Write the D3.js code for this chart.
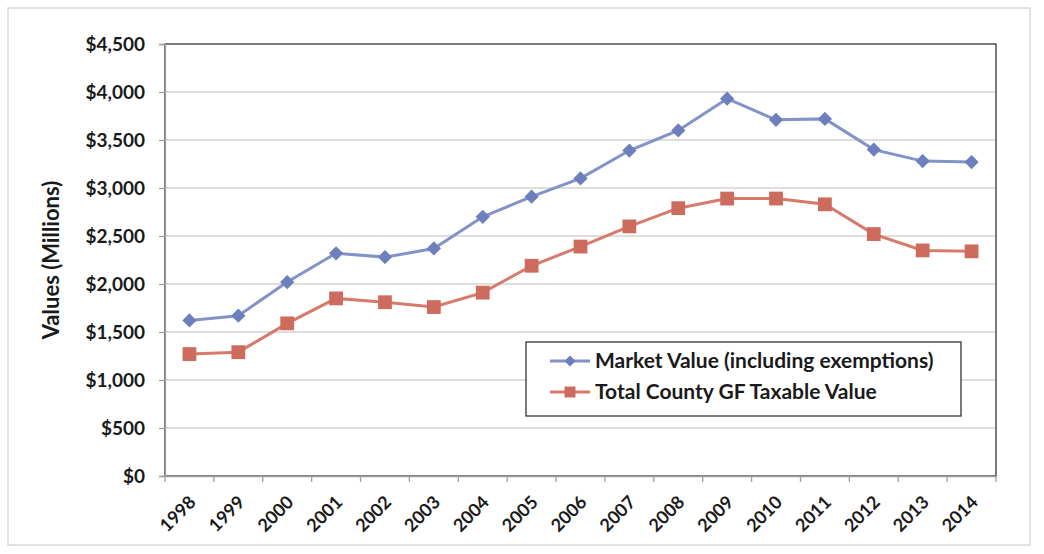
<!DOCTYPE html>
<html>
<head>
<meta charset="utf-8">
<script src="https://cdn.jsdelivr.net/npm/d3@7"></script>
<style>
  body { margin: 0; background: #fff; }
  svg text { font-family: Lato, "Open Sans", sans-serif; font-weight: bold; fill: #1a1a1a; }
</style>
</head>
<body>
<svg id="chart" width="1044" height="554"></svg>
<script>
const years = ['1998','1999','2000','2001','2002','2003','2004','2005','2006','2007','2008','2009','2010','2011','2012','2013','2014'];
const marketValue = [1620, 1670, 2020, 2320, 2280, 2370, 2700, 2910, 3100, 3390, 3600, 3930, 3710, 3720, 3400, 3280, 3270];
const taxableValue = [1270, 1290, 1590, 1850, 1810, 1760, 1910, 2190, 2390, 2600, 2790, 2890, 2890, 2830, 2520, 2350, 2340];
const yTicks = [0, 500, 1000, 1500, 2000, 2500, 3000, 3500, 4000, 4500];
const seriesNames = ['Market Value (including exemptions)', 'Total County GF Taxable Value'];

const width = 1044, height = 554;
const margin = { top: 44, right: 48, bottom: 78, left: 165 };

const svg = d3.select('#chart');

// outer frame
svg.append('rect')
    .attr('x', 8).attr('y', 8)
    .attr('width', 1022).attr('height', 537)
    .attr('fill', 'none')
    .attr('stroke', '#d9d9d9')
    .attr('stroke-width', 1.5);

const x = d3.scaleBand()
    .domain(years)
    .range([margin.left, width - margin.right]);

const y = d3.scaleLinear()
    .domain([0, 4500])
    .range([height - margin.bottom, margin.top]);

// gridlines
svg.append('g')
    .selectAll('line')
    .data(yTicks.filter(d => d > 0 && d < 4500))
    .enter()
    .append('line')
    .attr('x1', margin.left).attr('x2', width - margin.right)
    .attr('y1', d => y(d)).attr('y2', d => y(d))
    .attr('stroke', '#bdbdbd')
    .attr('stroke-width', 1.2);

// plot border (top/right dark)
svg.append('rect')
    .attr('x', margin.left).attr('y', margin.top)
    .attr('width', width - margin.right - margin.left)
    .attr('height', height - margin.bottom - margin.top)
    .attr('fill', 'none')
    .attr('stroke', '#333')
    .attr('stroke-width', 1.3);

//y axis
const yAxis = d3.axisLeft(y)
    .tickValues(yTicks)
    .tickSize(6)
    .tickPadding(14)
    .tickFormat(d => '$' + d3.format(',')(d));

const yAxisGroup = svg.append('g')
    .attr('transform', `translate(${margin.left},0)`)
    .call(yAxis);

yAxisGroup.selectAll('text').style('font-size', '19px');
yAxisGroup.selectAll('path, line').attr('stroke', '#9e9e9e').style('stroke-width', '1.3px');

//x axis
const xAxis = d3.axisBottom(x).tickSize(0).tickFormat(d => d);

const xAxisGroup = svg.append('g')
    .attr('transform', `translate(0,${height - margin.bottom})`)
    .call(xAxis);

xAxisGroup.select('path').attr('stroke', '#9e9e9e').style('stroke-width', '1.3px');
xAxisGroup.selectAll('text')
    .style('font-size', '18px')
    .style('text-anchor', 'end')
    .attr('y', 0)
    .attr('dy', '0.35em')
    .attr('transform', 'translate(3,23) rotate(-45)');

// category boundary ticks
svg.append('g')
    .selectAll('line')
    .data(years.concat(['end']))
    .enter()
    .append('line')
    .attr('x1', (d, i) => margin.left + i * x.step())
    .attr('x2', (d, i) => margin.left + i * x.step())
    .attr('y1', height - margin.bottom)
    .attr('y2', height - margin.bottom + 6)
    .attr('stroke', '#9e9e9e')
    .attr('stroke-width', 1.3);

// y title
svg.append('text')
    .attr('transform', `translate(51,${(margin.top + height - margin.bottom) / 2}) rotate(-90)`)
    .attr('text-anchor', 'middle')
    .attr('dy', '0.35em')
    .style('font-size', '22px')
    .text('Values (Millions)');

const cx = d => x(d) + x.bandwidth() / 2;
const line = d3.line().x(d => cx(d.year)).y(d => y(d.value));

const series = [
    { name: seriesNames[0], values: marketValue, line: '#8193c7', marker: '#6d80bd', shape: 'diamond' },
    { name: seriesNames[1], values: taxableValue, line: '#d77a6c', marker: '#cd6b5d', shape: 'square' }
];

series.forEach(s => {
    const pts = years.map((yr, i) => ({ year: yr, value: s.values[i] }));
    svg.append('path')
        .datum(pts)
        .attr('fill', 'none')
        .attr('stroke', s.line)
        .attr('stroke-width', 3)
        .attr('d', line);

    const sym = s.shape === 'diamond'
        ? d3.symbol().type(d3.symbolDiamond2).size(130)
        : d3.symbol().type(d3.symbolSquare).size(190);

    svg.append('g')
        .selectAll('path')
        .data(pts)
        .enter()
        .append('path')
        .attr('transform', d => `translate(${cx(d.year)},${y(d.value)})`)
        .attr('d', sym)
        .attr('fill', s.marker);
});

// legend
const legend = svg.append('g');
legend.append('rect')
    .attr('x', 526).attr('y', 342)
    .attr('width', 435).attr('height', 74)
    .attr('fill', '#fff')
    .attr('stroke', '#333')
    .attr('stroke-width', 1.3);

series.forEach((s, i) => {
    const ly = 361 + i * 31;
    legend.append('line')
        .attr('x1', 550).attr('x2', 590)
        .attr('y1', ly).attr('y2', ly)
        .attr('stroke', s.line)
        .attr('stroke-width', 3);
    legend.append('path')
        .attr('transform', `translate(570,${ly})`)
        .attr('d', s.shape === 'diamond'
            ? d3.symbol().type(d3.symbolDiamond2).size(80)
            : d3.symbol().type(d3.symbolSquare).size(120))
        .attr('fill', s.marker);
    legend.append('text')
        .attr('x', 595).attr('y', ly)
        .attr('dy', '0.35em')
        .style('font-size', '21px')
        .text(s.name);
});
</script>
</body>
</html>
